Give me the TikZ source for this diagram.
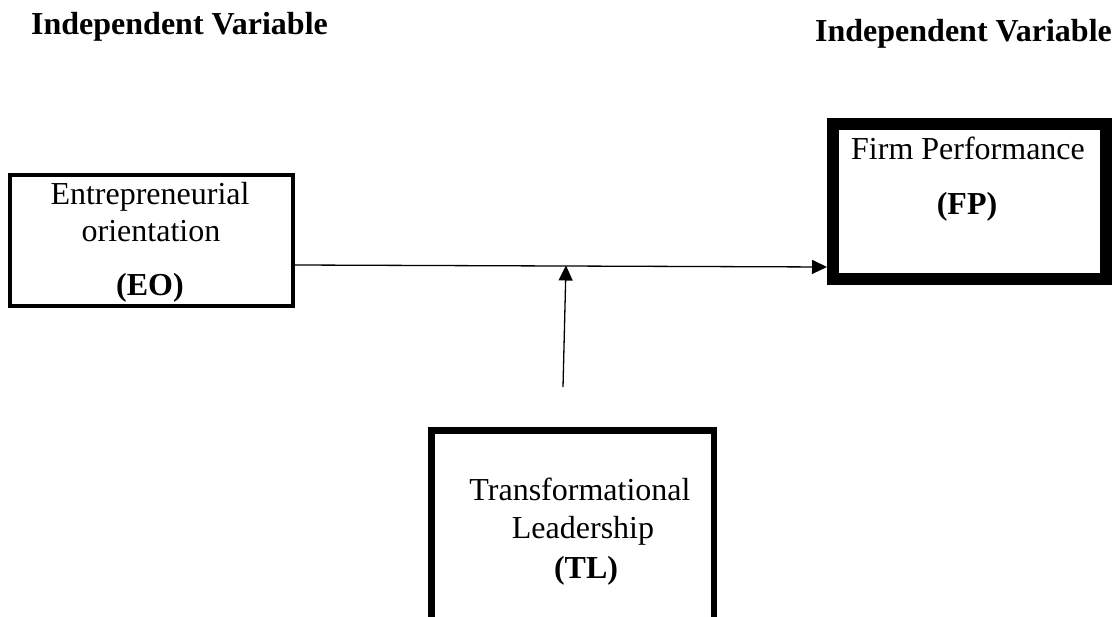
\documentclass[tikz,border=0pt]{standalone}
\usepackage{fontspec}
\setmainfont{Liberation Serif}
\usetikzlibrary{arrows.meta}
\begin{document}
\begin{tikzpicture}[x=1pt,y=-1pt,
  box/.style={draw, rectangle, inner sep=0pt},
  lbl/.style={anchor=base, inner sep=0pt, font=\fontsize{32}{38}\selectfont},
  blbl/.style={lbl, font=\fontsize{32}{38}\selectfont\bfseries},
  head/.style={anchor=base west, inner sep=0pt, font=\fontsize{32}{38}\selectfont\bfseries},
  arr/.style={line width=1.3pt, -{Triangle[length=15pt,width=14pt]}}]
\useasboundingbox (0,0) rectangle (1115,617);
\clip (0,0) rectangle (1115,617);

% headings
\node[head] (h1) at (31,34.5) {Independent Variable};
\node[head] (h2) at (815,41.5) {Independent Variable};

% boxes
\node[box, line width=4pt, minimum width=283pt, minimum height=131pt] (eo) at (151.5,240.5) {};
\node[box, line width=12pt, minimum width=273pt, minimum height=155pt] (fp) at (969.5,201.5) {};
\node[box, line width=6.5pt, minimum width=282.5pt, minimum height=210pt] (tl) at (572.5,535.25) {};

% texts
\node[lbl] (eo1) at (150,205) {Entrepreneurial};
\node[lbl] (eo2) at (151,241.5) {orientation};
\node[blbl] (eo3) at (150,295) {(EO)};

\node[lbl] (fp1) at (968,160) {Firm Performance};
\node[blbl] (fp2) at (967,215) {(FP)};

\node[lbl] (tl1) at (580,500) {Transformational};
\node[lbl] (tl2) at (583,538) {Leadership};
\node[blbl] (tl3) at (586,578) {(TL)};

% connectors
\draw[arr] ([yshift=-24.5pt]eo.east) -- ([yshift=-65.5pt]fp.west);
\coordinate (m0) at (563,387);
\coordinate (m1) at (566,265.5);
\draw[arr] (m0) -- (m1);
\end{tikzpicture}
\end{document}
